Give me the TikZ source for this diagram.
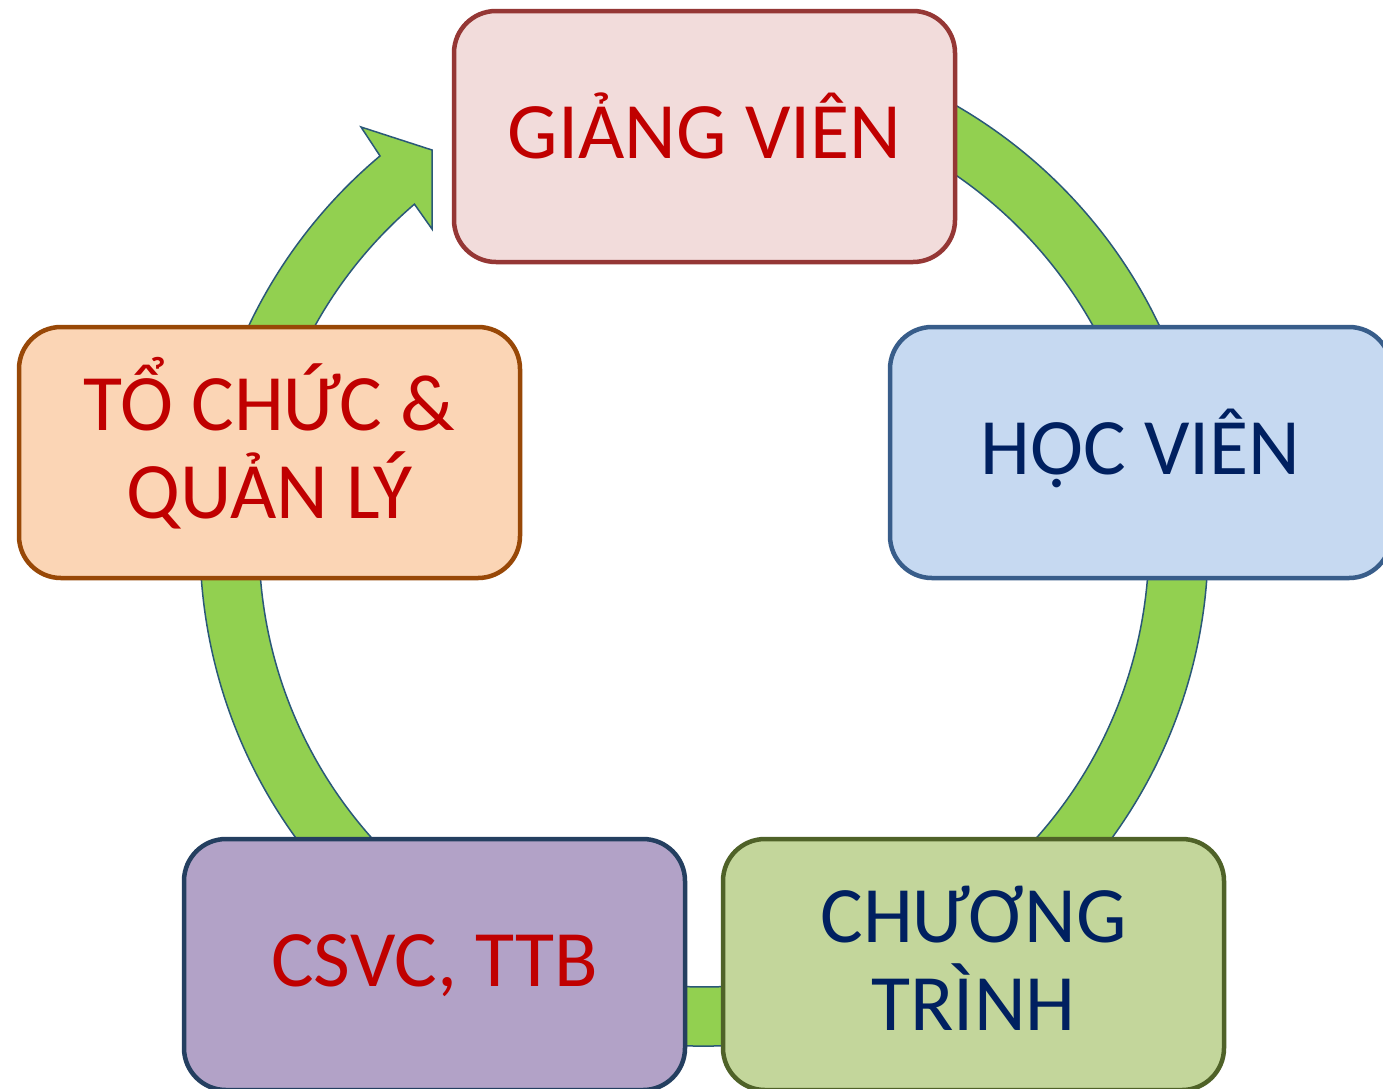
\documentclass[tikz,border=0pt]{standalone}
\usepackage{fontspec}
\setmainfont{Carlito}

% palette
\definecolor{ringgreen}{HTML}{92D050}
\definecolor{ringedge}{HTML}{2A5878}
\definecolor{redtext}{HTML}{C00000}
\definecolor{navytext}{HTML}{002060}
\definecolor{gvfill}{HTML}{F2DCDB}\definecolor{gvline}{HTML}{953735}
\definecolor{hvfill}{HTML}{C6D9F1}\definecolor{hvline}{HTML}{385D8A}
\definecolor{ctfill}{HTML}{C3D69B}\definecolor{ctline}{HTML}{4F6228}
\definecolor{csfill}{HTML}{B2A2C7}\definecolor{csline}{HTML}{243F60}
\definecolor{tcfill}{HTML}{FBD5B5}\definecolor{tcline}{HTML}{984807}

% two centred lines, baseline on the first one
\newcommand\twolines[2]{\vtop{\baselineskip=88pt\halign{\hfil##\hfil\cr#1\cr#2\cr}}}

\tikzset{
  box/.style={rectangle, rounded corners=42pt, line width=4.5pt,
    minimum width=501pt, minimum height=251pt, inner sep=0pt, outer sep=0pt,
    font=\fontsize{80}{88}\selectfont, text height=50.5pt, text depth=7pt},
  twoline/.style={text depth=95pt},
  ring/.style={fill=ringgreen, draw=ringedge, line width=1.5pt, line join=miter}
}

\begin{document}
\begin{tikzpicture}[x=1pt, y=1pt]
  \fill[white] (0,0) rectangle (1383,-1088);
  \clip (0,0) rectangle (1383,-1088);

  % circular arrow behind the boxes
  \coordinate (c) at (704,-542);
  \draw[ring] ([shift={(100:504)}]c) arc[start angle=100, end angle=-230, radius=504]
    -- (361,-127) -- (432,-150) -- (432,-229)
    -- ([shift={(-229.4:445)}]c) arc[start angle=-229.4, end angle=100, radius=445]
    -- cycle;

  % the five stages
  \node[box, fill=gvfill, draw=gvline, text=redtext] (gv) at (704.5,-136.5) {GIẢNG VIÊN};
  \node[box, fill=hvfill, draw=hvline, text=navytext] (hv) at (1140.5,-452.5) {HỌC VIÊN};
  \node[box, twoline, fill=ctfill, draw=ctline, text=navytext] (ct) at (973.5,-964.5)
    {\twolines{CHƯƠNG}{TRÌNH}};
  \node[box, fill=csfill, draw=csline, text=redtext] (cs) at (434.5,-964.5) {CSVC, TTB};
  \node[box, twoline, fill=tcfill, draw=tcline, text=redtext] (tc) at (269.5,-452.5)
    {\twolines{TỔ CHỨC \&}{QUẢN LÝ}};
\end{tikzpicture}
\end{document}
